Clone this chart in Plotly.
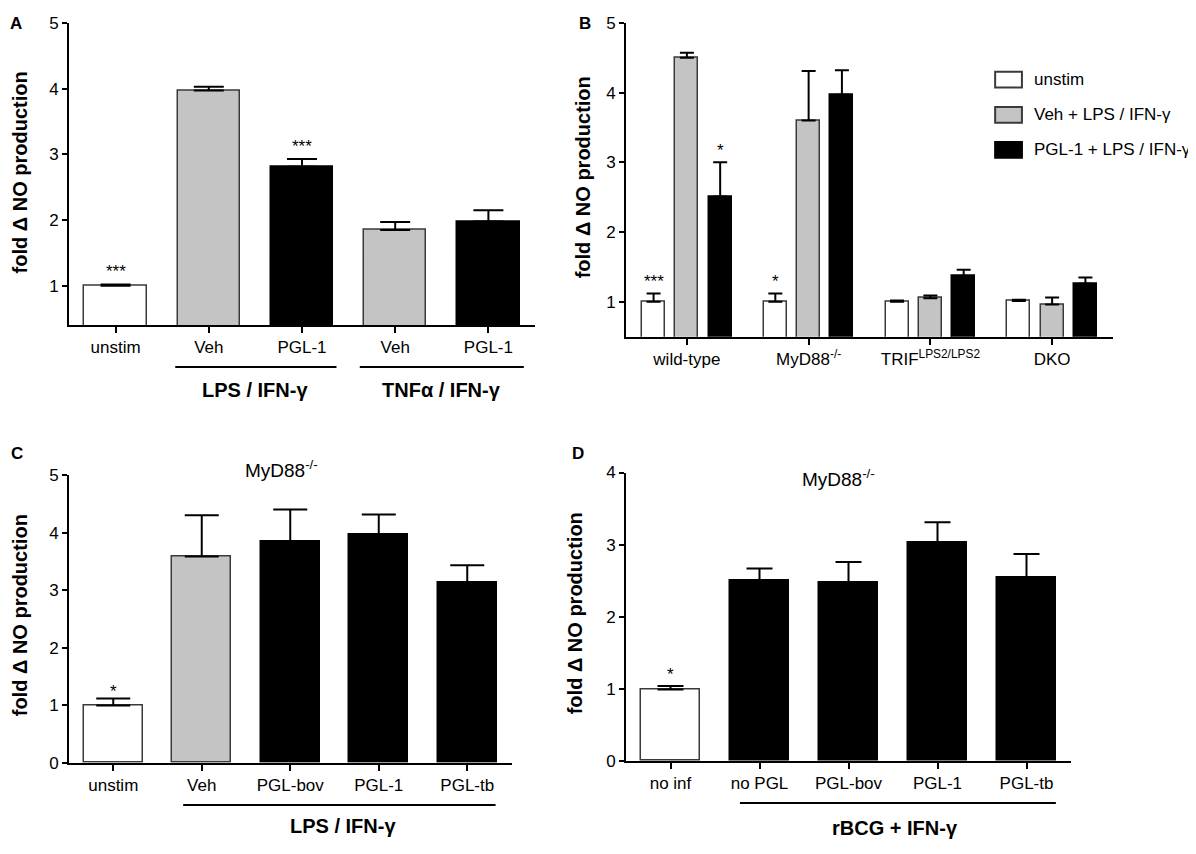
import plotly.graph_objects as go

# the page body keeps its default 8px margin, so the figure is drawn 8px smaller
# and every layout position below is given in window pixels
W, H = 1196, 854
PAD = 8
FONT = "Liberation Sans, Arial, sans-serif"

# ---- data -----------------------------------------------------------------
# A: fold change, LPS / TNF stimulation
a_labels = ["unstim", "Veh", "PGL-1", "Veh", "PGL-1"]
a_values = [1.0, 3.97, 2.81, 1.85, 1.98]
a_errors = [0.02, 0.06, 0.12, 0.12, 0.17]
a_fill = ["white", "grey", "black", "grey", "black"]
a_stars = ["***", "", "***", "", ""]
a_groups = ["LPS / IFN-γ", "TNFα / IFN-γ"]

# B: knockouts
b_genotypes = ["wild-type", "MyD88<sup>-/-</sup>", "TRIF<sup>LPS2/LPS2</sup>", "DKO"]
b_series = ["unstim", "Veh + LPS / IFN-γ", "PGL-1 + LPS / IFN-γ"]
b_unstim = [1.0, 1.0, 1.0, 1.01]
b_unstim_err = [0.12, 0.12, 0.02, 0.02]
b_veh = [4.50, 3.60, 1.05, 0.96]
b_veh_err = [0.07, 0.71, 0.04, 0.10]
b_pgl = [2.51, 3.97, 1.37, 1.26]
b_pgl_err = [0.49, 0.35, 0.09, 0.09]
b_unstim_stars = ["***", "*", "", ""]
b_veh_stars = ["", "", "", ""]
b_pgl_stars = ["*", "", "", ""]

# C: MyD88-/- with PGL variants
c_labels = ["unstim", "Veh", "PGL-bov", "PGL-1", "PGL-tb"]
c_values = [1.0, 3.59, 3.85, 3.97, 3.13]
c_errors = [0.12, 0.72, 0.56, 0.35, 0.31]
c_fill = ["white", "grey", "black", "black", "black"]
c_stars = ["*", "", "", "", ""]
c_group = "LPS / IFN-γ"

# D: MyD88-/- infected with rBCG
d_labels = ["no inf", "no PGL", "PGL-bov", "PGL-1", "PGL-tb"]
d_values = [0.99, 2.50, 2.48, 3.03, 2.54]
d_errors = [0.05, 0.17, 0.28, 0.28, 0.33]
d_fill = ["white", "black", "black", "black", "black"]
d_stars = ["*", "", "", "", ""]
d_group = "rBCG + IFN-γ"

FILL = {"white": "#ffffff", "grey": "#c4c4c4", "black": "#000000"}
EDGE = {"white": "#3a3a3a", "grey": "#3a3a3a", "black": "#000000"}

FW, FH = W - PAD, H - PAD


def px(x):
    return (x - PAD) / FW


def py(y):
    return 1 - (y - PAD) / FH


fig = go.Figure()


def bar_panel(n, labels, values, errors, fills, cap):
    xs = list(range(len(labels)))
    fig.add_trace(go.Bar(
        x=xs, y=values, width=0.67,
        marker=dict(color=[FILL[f] for f in fills],
                    line=dict(color=[EDGE[f] for f in fills], width=1.5)),
        error_y=dict(type="data", symmetric=False, array=errors,
                     arrayminus=[0] * len(values), color="black",
                     thickness=2, width=cap),
        xaxis="x" + n, yaxis="y" + n, showlegend=False, hoverinfo="skip",
    ))
    return xs


xa = bar_panel("", a_labels, a_values, a_errors, a_fill, 15)
xc = bar_panel("3", c_labels, c_values, c_errors, c_fill, 17)
xd = bar_panel("4", d_labels, d_values, d_errors, d_fill, 13)

# B: three series side by side per genotype
b_offsets = [-0.2735, 0, 0.2735]
b_data = [(b_unstim, b_unstim_err, "white", b_unstim_stars),
          (b_veh, b_veh_err, "grey", b_veh_stars),
          (b_pgl, b_pgl_err, "black", b_pgl_stars)]
for off, (vals, errs, f, _) in zip(b_offsets, b_data):
    fig.add_trace(go.Bar(
        x=[g + off for g in range(len(b_genotypes))], y=vals, width=0.19,
        marker=dict(color=FILL[f], line=dict(color=EDGE[f], width=1.5)),
        error_y=dict(type="data", symmetric=False, array=errs,
                     arrayminus=[0] * len(vals), color="black",
                     thickness=2, width=7),
        xaxis="x2", yaxis="y2", showlegend=False, hoverinfo="skip",
    ))


def xaxis(left, right, anchor, tickvals, ticktext, rng):
    return dict(domain=[px(left), px(right)], anchor=anchor, range=rng,
                tickvals=tickvals, ticktext=ticktext, showline=True,
                linecolor="black", linewidth=2, ticks="outside", ticklen=6,
                tickwidth=2, tickcolor="black", showgrid=False, zeroline=False,
                tickfont=dict(size=17, color="black"), fixedrange=True)


def yaxis(top, bottom, anchor, rng, tickvals):
    return dict(domain=[py(bottom), py(top)], anchor=anchor, range=rng,
                tickvals=tickvals, showline=True, linecolor="black",
                linewidth=2, ticks="outside", ticklen=5, tickwidth=2,
                tickcolor="black", showgrid=False, zeroline=False,
                tickfont=dict(size=17, color="black"), fixedrange=True)


fig.update_layout(
    width=FW, height=FH, margin=dict(l=0, r=0, t=0, b=0),
    paper_bgcolor="white", plot_bgcolor="white",
    font=dict(family=FONT, color="black"),
    bargap=0, showlegend=False,
    xaxis=xaxis(69, 535, "y", xa, a_labels, [-0.5, 4.5]),
    yaxis=yaxis(14, 323, "x", [0.405, 5], [1, 2, 3, 4, 5]),
    xaxis2=xaxis(626, 1113, "y2", list(range(len(b_genotypes))), b_genotypes, [-0.5, 3.5]),
    yaxis2=yaxis(14, 335, "x2", [0.5, 5], [1, 2, 3, 4, 5]),
    xaxis3=xaxis(69, 511.5, "y3", xc, c_labels, [-0.5, 4.5]),
    yaxis3=yaxis(477, 771, "x3", [0, 5], [0, 1, 2, 3, 4, 5]),
    xaxis4=xaxis(626, 1071, "y4", xd, d_labels, [-0.5, 4.5]),
    yaxis4=yaxis(474, 769, "x4", [0, 4], [0, 1, 2, 3, 4]),
)

ann = []
shapes = []


def paper_text(text, x, y, size, angle=0):
    ann.append(dict(text=text, x=px(x), y=py(y), xref="paper", yref="paper",
                    xanchor="center", yanchor="middle", textangle=angle,
                    showarrow=False, font=dict(size=size)))


# panel letters
for letter, x, y in [("A", 16, 15), ("B", 585, 15), ("C", 17, 455), ("D", 578, 455)]:
    paper_text("<b>%s</b>" % letter, x, y, 17)

# y titles (left ones nudged in so they are not clipped by the page margin)
for x, y in [(20, 167), (583, 172), (20, 620), (575, 618)]:
    paper_text("<b>fold Δ NO production</b>", x, y, 20, -90)

# MyD88 panel titles
for x, y in [(281, 470), (838, 480)]:
    paper_text("MyD88<sup>-/-</sup>", x, y, 19)

# treatment group underlines and labels
groups = [
    ("x", a_groups[0], 0.64, 2.37, 1.5, 366, 390),
    ("x", a_groups[1], 2.62, 4.38, 3.5, 366, 390),
    ("x3", c_group, 0.79, 4.32, 2.6, 814, 836),
    ("x4", d_group, 0.78, 4.33, 2.52, 812, 838),
]
for xr, label, x0, x1, xm, yl, yt in groups:
    shapes.append(dict(type="line", xref=xr, yref="paper", x0=x0, x1=x1,
                       y0=py(yl), y1=py(yl), line=dict(color="black", width=2)))
    ann.append(dict(text="<b>%s</b>" % label, x=xm, y=py(yt), xref=xr, yref="paper",
                    xanchor="center", yanchor="middle", showarrow=False,
                    font=dict(size=20)))


# significance stars
def stars(xr, yr, xs, vals, errs, marks, shift):
    for x, v, e, m in zip(xs, vals, errs, marks):
        if m:
            ann.append(dict(text=m, x=x, y=v + e, xref=xr, yref=yr,
                            xanchor="center", yanchor="bottom", yshift=shift,
                            showarrow=False, font=dict(size=17)))


stars("x", "y", xa, a_values, a_errors, a_stars, 1)
stars("x3", "y3", xc, c_values, c_errors, c_stars, -5)
stars("x4", "y4", xd, d_values, d_errors, d_stars, 0)
for off, (vals, errs, f, marks) in zip(b_offsets, b_data):
    stars("x2", "y2", [g + off for g in range(len(b_genotypes))], vals, errs, marks, 0)

# legend for panel B
for (vals, errs, f, _), name, yc in zip(b_data, b_series, [0.819, 0.707, 0.595]):
    shapes.append(dict(type="rect", xref="x2 domain", yref="y2 domain",
                       x0=0.758, x1=0.813, y0=yc - 0.025, y1=yc + 0.025,
                       fillcolor=FILL[f], line=dict(color=EDGE[f], width=2)))
    ann.append(dict(text=name, x=0.834, y=yc, xref="x2 domain", yref="y2 domain",
                    xanchor="left", yanchor="middle", showarrow=False,
                    font=dict(size=17)))

fig.update_layout(annotations=ann, shapes=shapes)
fig.write_html("out.html")
